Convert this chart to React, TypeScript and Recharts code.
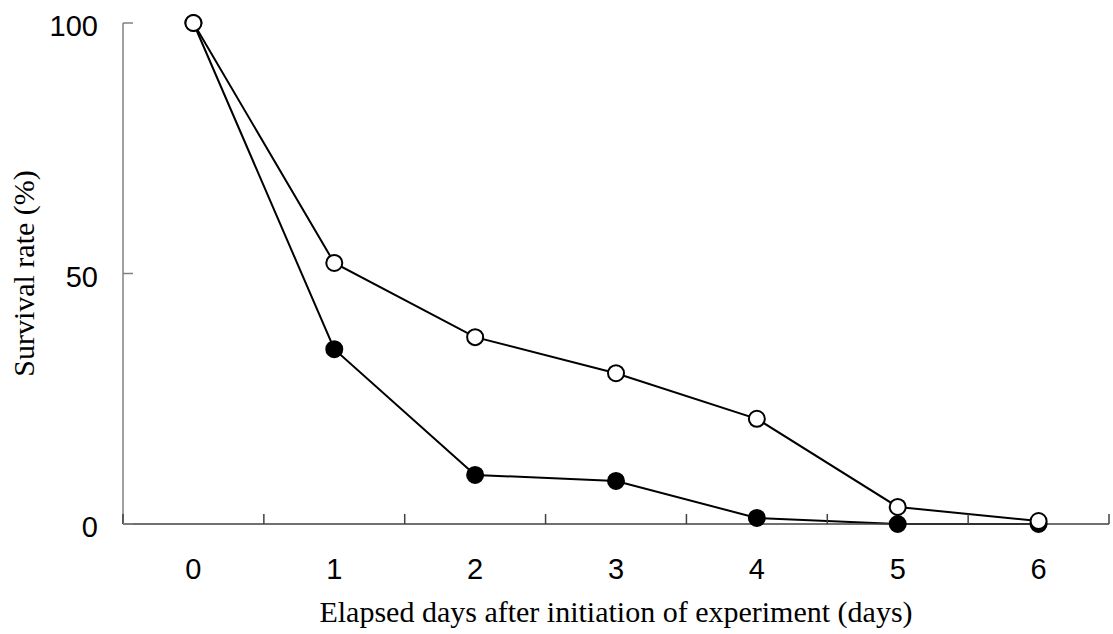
import { LineChart, Line, XAxis, YAxis, Label } from "recharts";

const days = [0, 1, 2, 3, 4, 5, 6];
const openCircles = [100, 52.1, 37.3, 30.1, 21.0, 3.4, 0.6];
const filledCircles = [100, 34.9, 9.8, 8.6, 1.2, 0, 0];
const dayTicks = [0, 1, 2, 3, 4, 5, 6];
const boundaryTicks = [-0.5, 0.5, 1.5, 2.5, 3.5, 4.5, 5.5, 6.5];
const rateTicks = [0, 50, 100];

const data = days.map((d, i) => ({ day: d, open: openCircles[i], filled: filledCircles[i] }));

const sans = "'Liberation Sans', Arial, sans-serif";
const serif = "'Liberation Serif', 'Times New Roman', serif";

// y ticks point into the plot, label sits left of the axis
const YTick = ({ x, y, payload }: any) => (
  <g>
    <line x1={x} y1={y} x2={x + 10} y2={y} stroke="#808080" strokeWidth={1.5} />
    <text x={x - 25} y={y} dy={13} textAnchor="end" fontFamily={sans} fontSize={29} fill="#000">
      {payload.value}
    </text>
  </g>
);

// x boundary marks point up into the plot
const MarkTick = ({ x, y }: any) => (
  <line x1={x} y1={y} x2={x} y2={y - 10} stroke="#404040" strokeWidth={1.5} />
);

const XTick = ({ x, y, payload }: any) => (
  <text x={x} y={y} dy={54} textAnchor="middle" fontFamily={sans} fontSize={29} fill="#000">
    {payload.value}
  </text>
);

export default function App() {
  return (
    <div style={{ position: "absolute", left: 0, top: 0, background: "#fff" }}>
      <LineChart width={1113} height={634} data={data} margin={{ top: 23, right: 4, left: 0, bottom: 0 }}>
        <XAxis
          xAxisId="b"
          dataKey="day"
          type="number"
          domain={[-0.5, 6.5]}
          ticks={dayTicks}
          tick={XTick}
          tickSize={0}
          tickMargin={0}
          height={109}
          interval={0}
          axisLine={false}
          tickLine={false}
        >
          <Label
            value="Elapsed days after initiation of experiment (days)"
            position="insideBottom"
            offset={12}
            style={{ fontFamily: serif, fontSize: 30, fill: "#000" }}
          />
        </XAxis>
        <XAxis
          xAxisId="a"
          dataKey="day"
          type="number"
          domain={[-0.5, 6.5]}
          ticks={boundaryTicks}
          tick={MarkTick}
          tickSize={0}
          tickMargin={0}
          height={1}
          interval={0}
          axisLine={{ stroke: "#404040", strokeWidth: 1.5 }}
          tickLine={false}
        />
        <YAxis
          domain={[0, 100]}
          ticks={rateTicks}
          width={123}
          tickSize={0}
          tickMargin={0}
          interval={0}
          tick={YTick}
          axisLine={{ stroke: "#808080", strokeWidth: 1.5 }}
          tickLine={false}
        >
          <Label
            value="Survival rate (%)"
            angle={-90}
            position="insideLeft"
            offset={23}
            style={{ fontFamily: serif, fontSize: 30, fill: "#000", textAnchor: "middle" }}
          />
        </YAxis>
        <Line
          xAxisId="a"
          dataKey="filled"
          stroke="#000"
          strokeWidth={2}
          dot={{ r: 8, fill: "#000", stroke: "#000", strokeWidth: 2 }}
          isAnimationActive={false}
        />
        <Line
          xAxisId="a"
          dataKey="open"
          stroke="#000"
          strokeWidth={2}
          dot={{ r: 8, fill: "#fff", stroke: "#000", strokeWidth: 2 }}
          isAnimationActive={false}
        />
      </LineChart>
    </div>
  );
}
